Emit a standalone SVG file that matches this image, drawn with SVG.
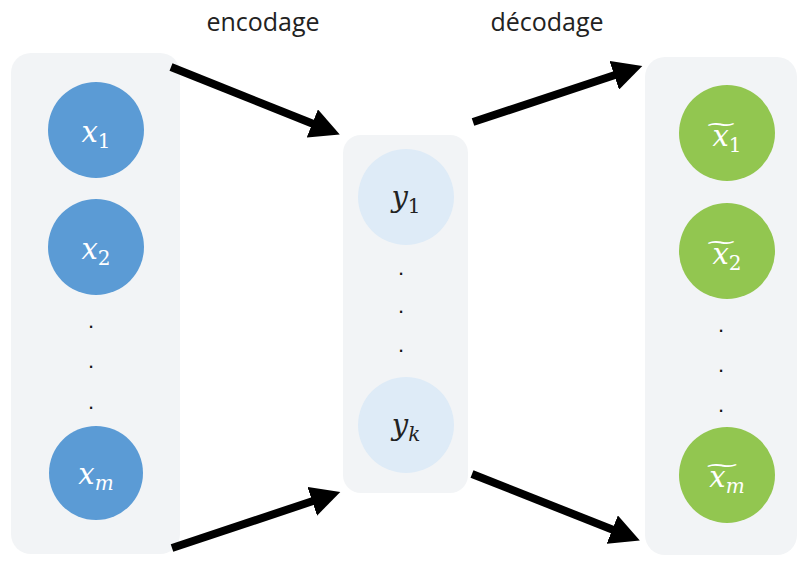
<svg xmlns="http://www.w3.org/2000/svg" width="802" height="565" viewBox="0 0 802 565">
<style>
.panel{fill:#f2f4f6}
.in{fill:#5b9bd5}
.lat{fill:#deebf7}
.out{fill:#92c650}
.m{font-family:"DejaVu Serif","Liberation Serif",serif;font-style:italic;font-size:29px;text-anchor:middle}
.sub{font-size:20px;font-style:normal}
.subi{font-size:20px;font-style:italic}
.w{fill:#ffffff}
.k{fill:#222222}
.dot{font-family:"Liberation Sans",sans-serif;font-size:22px;fill:#111;text-anchor:middle}
.lbl{font-family:"Open Sans","Liberation Sans",sans-serif;font-size:25px;fill:#222;text-anchor:middle}
.arr{stroke:#000;stroke-width:8;fill:none;marker-end:url(#ah)}
.til{font-family:"DejaVu Serif",serif;font-size:20px;text-anchor:middle}
</style>
<defs>
<marker id="ah" markerUnits="strokeWidth" markerWidth="4" markerHeight="3.8" refX="0.5" refY="1.9" orient="auto">
<path d="M0,0 L3.7,1.9 L0,3.8 Z" fill="#000"/>
</marker>
</defs>
<rect width="802" height="565" fill="#ffffff"/>
<g id="panel-input"><rect class="panel" x="11" y="53" width="169" height="501" rx="20"/></g>
<g id="panel-latent"><rect class="panel" x="343" y="135" width="125" height="358" rx="18"/></g>
<g id="panel-output"><rect class="panel" x="645" y="57" width="152" height="498" rx="20"/></g>

<g id="node-x1"><circle class="in" cx="96" cy="130" r="48"/><text class="m w" x="96" y="142">x<tspan class="sub" dy="6">1</tspan></text></g>
<g id="node-x2"><circle class="in" cx="96" cy="247" r="48"/><text class="m w" x="96" y="259">x<tspan class="sub" dy="6">2</tspan></text></g>
<g id="dots-x"><text class="dot" x="91" y="328">.</text><text class="dot" x="91" y="368">.</text><text class="dot" x="91" y="409">.</text></g>
<g id="node-xm"><circle class="in" cx="96" cy="473" r="47"/><text class="m w" x="96" y="484">x<tspan class="subi" dy="6">m</tspan></text></g>

<g id="node-y1"><circle class="lat" cx="406" cy="197" r="48"/><text class="m k" x="406" y="207">y<tspan class="sub" dy="6">1</tspan></text></g>
<g id="dots-y"><text class="dot" x="401" y="275">.</text><text class="dot" x="401" y="313">.</text><text class="dot" x="401" y="352">.</text></g>
<g id="node-yk"><circle class="lat" cx="406" cy="425" r="48"/><text class="m k" x="406" y="435">y<tspan class="subi" dy="6">k</tspan></text></g>

<g id="node-xt1"><circle class="out" cx="727" cy="133" r="48"/><text class="m w" x="727" y="146">x<tspan class="sub" dy="6">1</tspan></text><text class="til w" x="721" y="131" textLength="34" lengthAdjust="spacingAndGlyphs">~</text></g>
<g id="node-xt2"><circle class="out" cx="727" cy="251" r="48"/><text class="m w" x="727" y="264">x<tspan class="sub" dy="6">2</tspan></text><text class="til w" x="721" y="249" textLength="34" lengthAdjust="spacingAndGlyphs">~</text></g>
<g id="dots-xt"><text class="dot" x="721" y="332">.</text><text class="dot" x="721" y="372">.</text><text class="dot" x="721" y="412">.</text></g>
<g id="node-xtm"><circle class="out" cx="727" cy="475" r="48"/><text class="m w" x="727" y="487">x<tspan class="subi" dy="6">m</tspan></text><text class="til w" x="722" y="472" textLength="38" lengthAdjust="spacingAndGlyphs">~</text></g>

<g id="labels"><text class="lbl" x="263" y="31">encodage</text><text class="lbl" x="547" y="31">décodage</text></g>

<g id="connectors">
<line class="arr" x1="171" y1="67" x2="316" y2="125"/>
<line class="arr" x1="172" y1="548" x2="316" y2="500"/>
<line class="arr" x1="473" y1="122" x2="618" y2="74"/>
<line class="arr" x1="472" y1="474" x2="616" y2="531"/>
</g>
</svg>
